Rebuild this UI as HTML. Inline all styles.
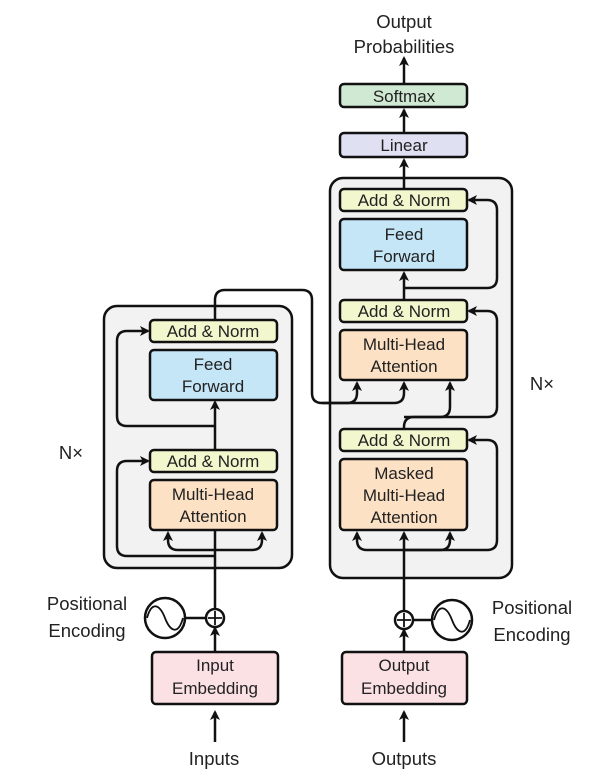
<!DOCTYPE html>
<html><head><meta charset="utf-8"><style>
html,body{margin:0;padding:0;background:#fff}
svg{display:block}
text{font-family:"Liberation Sans",sans-serif;font-size:17px;fill:#222;text-anchor:middle}
.o{font-size:18.5px}
.b{stroke:#111;stroke-width:2.5}
.l{stroke:#111;stroke-width:2.5;fill:none}
</style></head><body>
<svg width="610" height="780" viewBox="0 0 610 780" xmlns="http://www.w3.org/2000/svg">
<defs>
<marker id="a" markerWidth="10" markerHeight="10" refX="8" refY="5" orient="auto" markerUnits="userSpaceOnUse">
<path d="M0,0 L10,5 L0,10 L2.5,5 z" fill="#111"/></marker>
</defs>
<rect x="104" y="306" width="188" height="262" rx="13" fill="#f2f2f2" class="b"/>
<rect x="330" y="178" width="182" height="400" rx="13" fill="#f2f2f2" class="b"/>

<path class="l" d="M215,742 V712" marker-end="url(#a)"/>
<path class="l" d="M215,652 V628" marker-end="url(#a)"/>
<path class="l" d="M215,609 V482" marker-end="url(#a)"/>
<path class="l" d="M185,618 H206"/>
<path class="l" d="M215,556 H127 Q117,556 117,546 V471 Q117,461 127,461 H148" marker-end="url(#a)"/>
<path class="l" d="M215,550 H178 Q168,550 168,540 V533" marker-end="url(#a)"/>
<path class="l" d="M215,550 H252 Q262,550 262,540 V533" marker-end="url(#a)"/>
<path class="l" d="M215,472 V402" marker-end="url(#a)"/>
<path class="l" d="M215,426 H127 Q117,426 117,416 V341 Q117,331 127,331 H148" marker-end="url(#a)"/>
<path class="l" d="M215,320 V300 Q215,290 225,290 H302 Q312,290 312,300 V393 Q312,403 322,403 H347 Q357,403 357,393 V383" marker-end="url(#a)"/>
<path class="l" d="M322,403 H394 Q404,403 404,393 V383" marker-end="url(#a)"/>

<path class="l" d="M404,742 V712" marker-end="url(#a)"/>
<path class="l" d="M404,652 V630" marker-end="url(#a)"/>
<path class="l" d="M404,611 V533" marker-end="url(#a)"/>
<path class="l" d="M413,620 H432"/>
<path class="l" d="M404,550 H487 Q497,550 497,540 V450 Q497,440 487,440 H469" marker-end="url(#a)"/>
<path class="l" d="M404,550 H367 Q357,550 357,540 V533" marker-end="url(#a)"/>
<path class="l" d="M404,550 H440 Q450,550 450,540 V533" marker-end="url(#a)"/>
<path class="l" d="M404,451 V427 Q404,417 414,417 H440 Q450,417 450,407 V383" marker-end="url(#a)"/>
<path class="l" d="M404,417 H487 Q497,417 497,407 V321 Q497,311 487,311 H469" marker-end="url(#a)"/>
<path class="l" d="M404,300 V273" marker-end="url(#a)"/>
<path class="l" d="M404,288 H487 Q497,288 497,278 V210 Q497,200 487,200 H469" marker-end="url(#a)"/>
<path class="l" d="M404,189 V160" marker-end="url(#a)"/>
<path class="l" d="M404,133 V110" marker-end="url(#a)"/>
<path class="l" d="M404,84 V58" marker-end="url(#a)"/>

<rect x="150" y="320" width="127" height="22" rx="4" fill="#f3f7cd" class="b"/>
<text x="213" y="337">Add &amp; Norm</text>
<rect x="150" y="350" width="127" height="50" rx="4" fill="#c5e6f7" class="b"/>
<text x="213" y="370">Feed</text><text x="213" y="392">Forward</text>
<rect x="150" y="450" width="127" height="22" rx="4" fill="#f3f7cd" class="b"/>
<text x="213" y="467">Add &amp; Norm</text>
<rect x="150" y="480" width="127" height="50" rx="4" fill="#fde1c4" class="b"/>
<text x="213" y="500">Multi-Head</text><text x="213" y="522">Attention</text>
<rect x="152" y="652" width="126" height="52" rx="4" fill="#fbe0e4" class="b"/>
<text x="215" y="671">Input</text><text x="215" y="694">Embedding</text>
<circle cx="215" cy="618" r="9" fill="#fff" class="b"/>
<path class="l" d="M215,611 V625 M208,618 H222" style="stroke-width:1.8"/>
<circle cx="165" cy="618" r="20" fill="#fff" class="b"/>
<path class="l" style="stroke-width:1.8" d="M147,618 C152,600 160,605 165,618 C170,631 178,636 183,618"/>
<text class="o" x="87" y="610">Positional</text><text class="o" x="87" y="637">Encoding</text>
<text class="o" x="214" y="765">Inputs</text>
<text class="o" x="71" y="459">N×</text>

<rect x="340" y="189" width="127" height="22" rx="4" fill="#f3f7cd" class="b"/>
<text x="404" y="206">Add &amp; Norm</text>
<rect x="340" y="219" width="127" height="51" rx="4" fill="#c5e6f7" class="b"/>
<text x="404" y="240">Feed</text><text x="404" y="262">Forward</text>
<rect x="340" y="300" width="127" height="22" rx="4" fill="#f3f7cd" class="b"/>
<text x="404" y="317">Add &amp; Norm</text>
<rect x="340" y="330" width="127" height="50" rx="4" fill="#fde1c4" class="b"/>
<text x="404" y="350">Multi-Head</text><text x="404" y="372">Attention</text>
<rect x="340" y="429" width="127" height="22" rx="4" fill="#f3f7cd" class="b"/>
<text x="404" y="446">Add &amp; Norm</text>
<rect x="340" y="459" width="127" height="71" rx="4" fill="#fde1c4" class="b"/>
<text x="404" y="479">Masked</text><text x="404" y="501">Multi-Head</text><text x="404" y="523">Attention</text>
<rect x="340" y="133" width="127" height="24" rx="4" fill="#dfe0f2" class="b"/>
<text x="404" y="151">Linear</text>
<rect x="340" y="84" width="127" height="23" rx="4" fill="#cfe9d2" class="b"/>
<text x="404" y="102">Softmax</text>
<text class="o" x="404" y="28">Output</text><text class="o" x="404" y="53">Probabilities</text>
<rect x="342" y="652" width="125" height="52" rx="4" fill="#fbe0e4" class="b"/>
<text x="404" y="671">Output</text><text x="404" y="694">Embedding</text>
<circle cx="404" cy="620" r="9" fill="#fff" class="b"/>
<path class="l" d="M404,613 V627 M397,620 H411" style="stroke-width:1.8"/>
<circle cx="452" cy="620" r="20" fill="#fff" class="b"/>
<path class="l" style="stroke-width:1.8" d="M434,620 C439,602 447,607 452,620 C457,633 465,638 470,620"/>
<text class="o" x="532" y="614">Positional</text><text class="o" x="532" y="641">Encoding</text>
<text class="o" x="404" y="765">Outputs</text>
<text class="o" x="542" y="390">N×</text>
</svg>
</body></html>
